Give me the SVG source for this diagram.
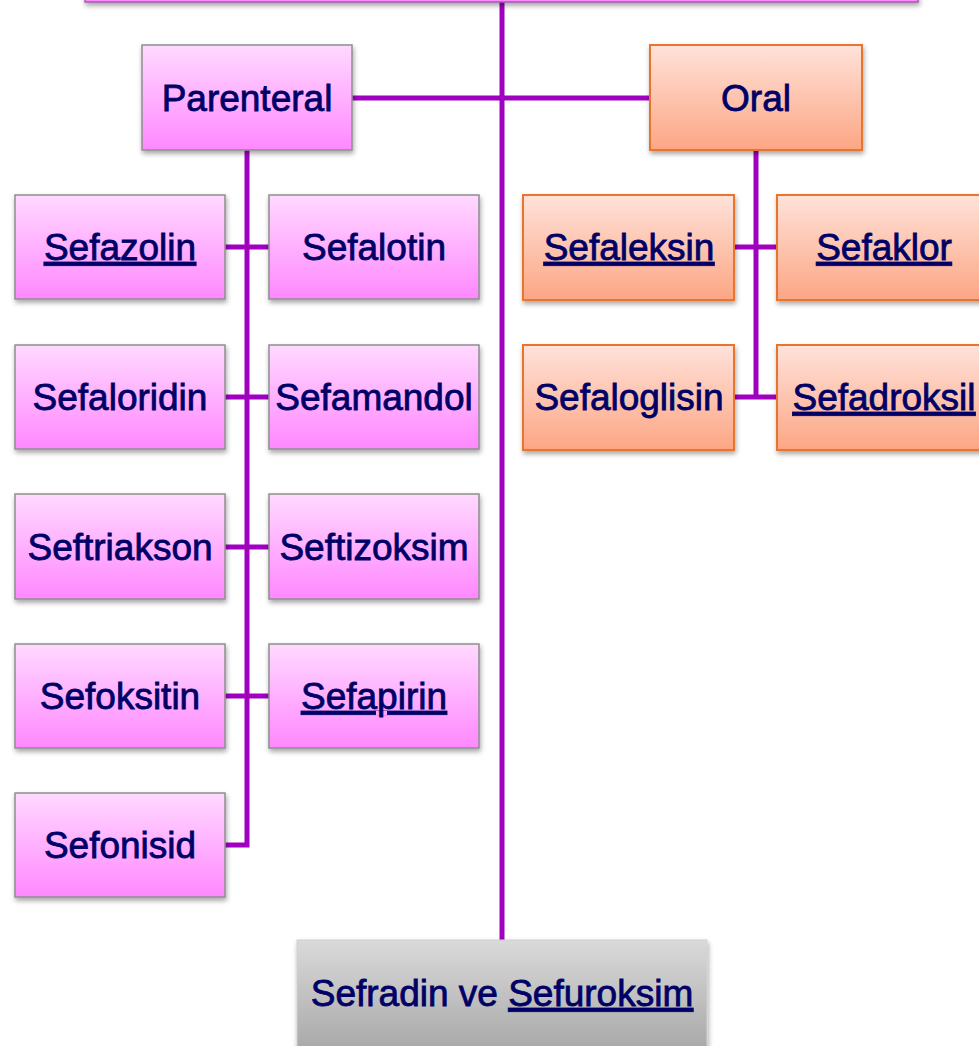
<svg xmlns="http://www.w3.org/2000/svg" width="979" height="1046" viewBox="0 0 979 1046">
<defs>
<linearGradient id="gPink" x1="0" y1="0" x2="0" y2="1"><stop offset="0" stop-color="#FFD9FF"/><stop offset="1" stop-color="#FF88FF"/></linearGradient>
<linearGradient id="gOrange" x1="0" y1="0" x2="0" y2="1"><stop offset="0" stop-color="#FFE2DA"/><stop offset="1" stop-color="#FCA684"/></linearGradient>
<linearGradient id="gGray" x1="0" y1="0" x2="0" y2="1"><stop offset="0" stop-color="#DADADA"/><stop offset="1" stop-color="#A4A4A4"/></linearGradient>
<filter id="sh" x="-10%" y="-10%" width="130%" height="130%"><feDropShadow dx="1" dy="3" stdDeviation="2.5" flood-color="#000" flood-opacity="0.35"/></filter>
</defs>
<style>
.p{fill:url(#gPink);stroke:#8E8E8E;stroke-width:1.5;filter:url(#sh)}
.o{fill:url(#gOrange);stroke:#E8752E;stroke-width:2;filter:url(#sh)}
.g{fill:url(#gGray);stroke:#D0D0D0;stroke-width:1;filter:url(#sh)}
.t{font-family:"Liberation Sans",Arial,sans-serif;font-size:37px;fill:#000066;stroke:#000066;stroke-width:0.8;text-anchor:middle}
.u{text-decoration:underline}
.c{stroke:#A000C0;stroke-width:5;fill:none}
</style>
<g id="connectors">
<line class="c" x1="502" y1="0" x2="502" y2="942"/>
<line class="c" x1="352" y1="98" x2="650" y2="98"/>
<polyline class="c" points="247,150 247,845 225,845"/>
<line class="c" x1="225" y1="247" x2="269" y2="247"/>
<line class="c" x1="225" y1="397" x2="269" y2="397"/>
<line class="c" x1="225" y1="547" x2="269" y2="547"/>
<line class="c" x1="225" y1="696" x2="269" y2="696"/>
<line class="c" x1="756" y1="150" x2="756" y2="397"/>
<line class="c" x1="734" y1="247" x2="777" y2="247"/>
<line class="c" x1="734" y1="397" x2="777" y2="397"/>
</g>
<g id="top"><rect class="p" x="85" y="-60" width="833" height="62" style="stroke:#9A60A8"/></g>
<g id="parenteral"><rect class="p" x="142" y="45" width="210" height="105"/><text class="t" x="247" y="111">Parenteral</text></g>
<g id="oral"><rect class="o" x="650" y="45" width="212" height="105"/><text class="t" x="756" y="111">Oral</text></g>
<g id="sefazolin"><rect class="p" x="15" y="195" width="210" height="104"/><text class="t u" x="120" y="260">Sefazolin</text></g>
<g id="sefalotin"><rect class="p" x="269" y="195" width="210" height="104"/><text class="t" x="374" y="260">Sefalotin</text></g>
<g id="sefaloridin"><rect class="p" x="15" y="345" width="210" height="104"/><text class="t" x="120" y="410">Sefaloridin</text></g>
<g id="sefamandol"><rect class="p" x="269" y="345" width="210" height="104"/><text class="t" x="374" y="410">Sefamandol</text></g>
<g id="seftriakson"><rect class="p" x="15" y="494" width="210" height="105"/><text class="t" x="120" y="560">Seftriakson</text></g>
<g id="seftizoksim"><rect class="p" x="269" y="494" width="210" height="105"/><text class="t" x="374" y="560">Seftizoksim</text></g>
<g id="sefoksitin"><rect class="p" x="15" y="644" width="210" height="104"/><text class="t" x="120" y="709">Sefoksitin</text></g>
<g id="sefapirin"><rect class="p" x="269" y="644" width="210" height="104"/><text class="t u" x="374" y="709">Sefapirin</text></g>
<g id="sefonisid"><rect class="p" x="15" y="793" width="210" height="104"/><text class="t" x="120" y="858">Sefonisid</text></g>
<g id="sefaleksin"><rect class="o" x="523" y="195" width="211" height="105"/><text class="t u" x="629" y="260">Sefaleksin</text></g>
<g id="sefaklor"><rect class="o" x="777" y="195" width="213" height="105"/><text class="t u" x="884" y="260">Sefaklor</text></g>
<g id="sefaloglisin"><rect class="o" x="523" y="345" width="211" height="105"/><text class="t" x="629" y="410">Sefaloglisin</text></g>
<g id="sefadroksil"><rect class="o" x="777" y="345" width="213" height="105"/><text class="t u" x="884" y="410">Sefadroksil</text></g>
<g id="sefradin"><rect class="g" x="297" y="940" width="410" height="120"/><text class="t" x="502" y="1006">Sefradin ve <tspan class="u">Sefuroksim</tspan></text></g>
</svg>
